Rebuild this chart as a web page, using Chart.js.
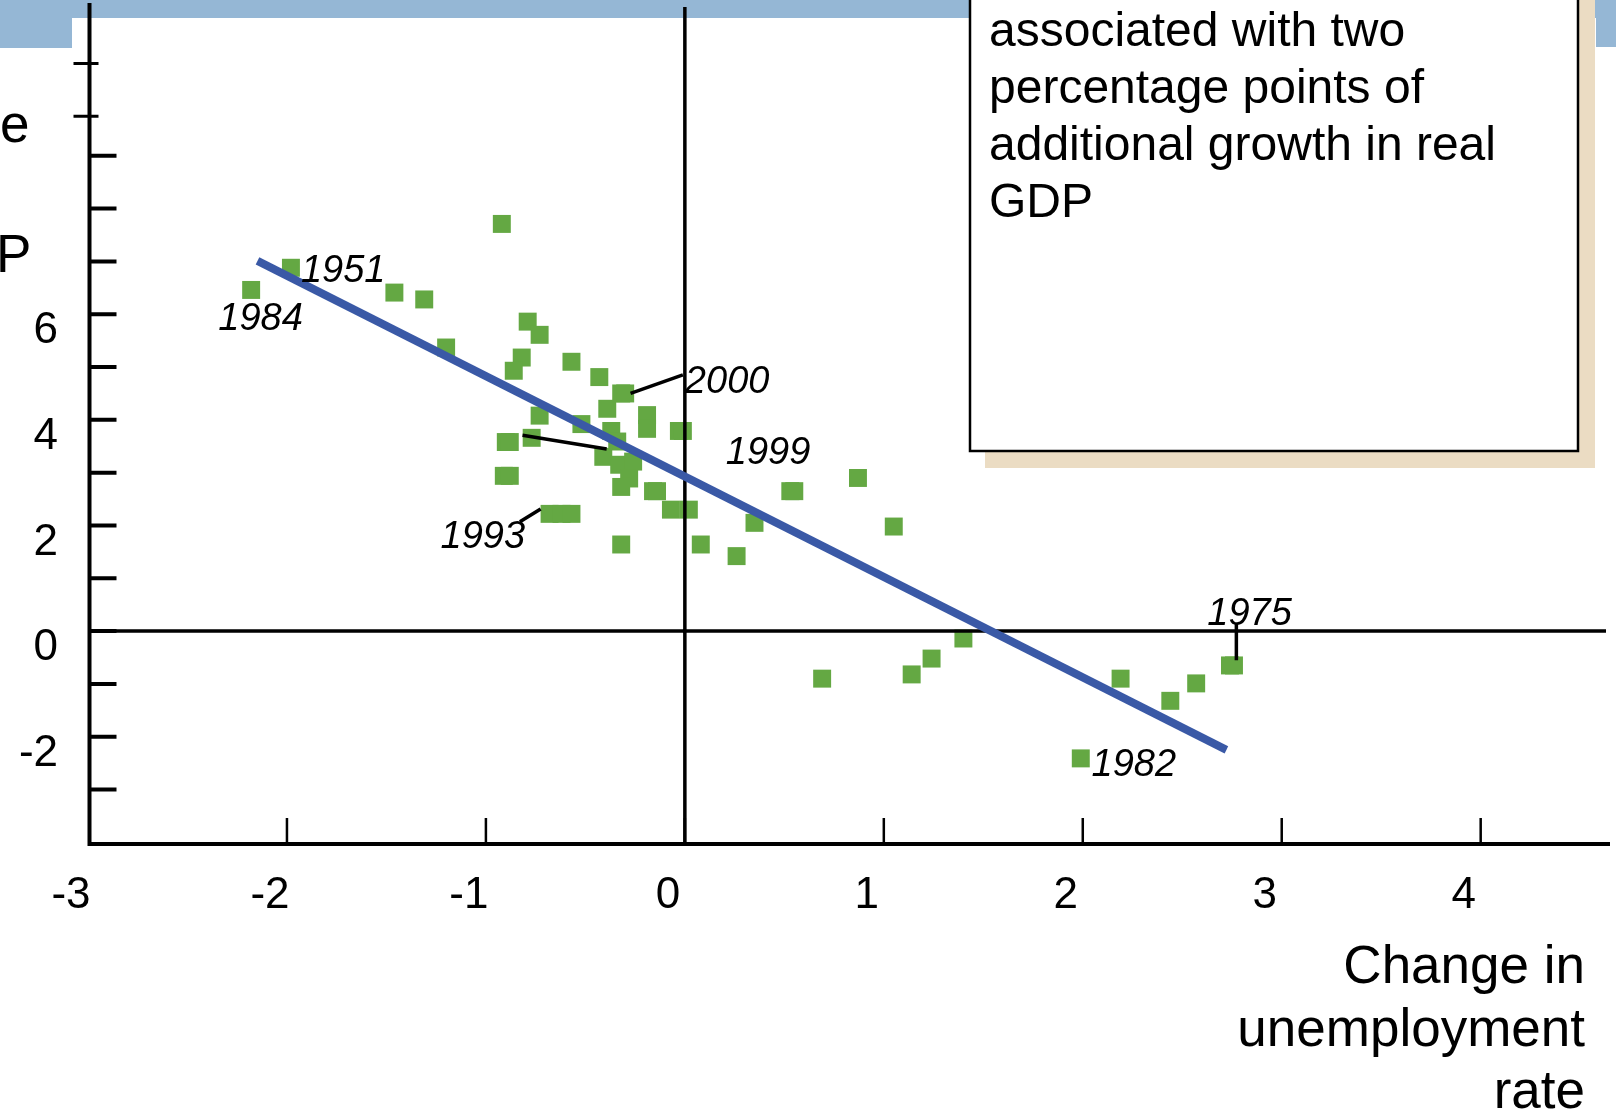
<!DOCTYPE html>
<html lang="en">
<head>
    <meta charset="UTF-8">
    <title>Change in unemployment vs real GDP growth</title>
    <script src="https://cdn.jsdelivr.net/npm/chart.js"></script>
    <style>
        html, body { margin: 0; padding: 0; background: #fff; }
        #okunChart { display: block; }
    </style>
</head>
<body>
    <canvas id="okunChart" width="1616" height="1115"></canvas>
    <script>
        // Annual observations: change in unemployment rate (x) vs real GDP growth (y)
        const unempChange = [
            -0.92, -1.98, -2.18, -1.46, -1.31, -1.20, -0.79, -0.73, -0.82, -0.86,
            -0.57, -0.43, -0.32, -0.30, -0.39, -0.73, -0.52, -0.19, -0.19, -0.03,
            -0.01, -0.37, -0.90, -0.88, -0.77, -0.34, -0.41, -0.33, -0.26, -0.28,
            -0.32, -0.91, -0.88, -0.16, -0.14, -0.68, -0.62, -0.57, -0.07, 0.02,
            -0.32, 0.08, 0.26, 0.35, 0.53, 0.55, 0.87, 1.05, 0.69, 1.14,
            1.24, 1.40, 2.19, 2.44, 2.57, 2.74, 2.76, 1.99
        ];
        const gdpGrowth = [
            7.71, 6.88, 6.46, 6.41, 6.28, 5.37, 5.86, 5.61, 5.18, 4.93,
            5.10, 4.81, 4.50, 4.50, 4.21, 4.08, 3.92, 4.09, 3.83, 3.79,
            3.79, 3.79, 3.58, 3.58, 3.66, 3.59, 3.30, 3.15, 3.21, 2.89,
            2.73, 2.94, 2.94, 2.65, 2.65, 2.22, 2.22, 2.22, 2.30, 2.30,
            1.64, 1.64, 1.42, 2.05, 2.65, 2.65, 2.90, 1.98, -0.90, -0.82,
            -0.52, -0.14, -0.90, -1.32, -0.99, -0.65, -0.65, -2.41
        ];

        // fitted Okun line (end points)
        const fitX = [-2.148, 2.722];
        const fitY = [7.01, -2.25];

        // leader lines from year labels to their points
        const leaderX = [[-0.273, -0.010], [-0.816, -0.393], [-0.829, -0.725], [2.772, 2.772]];
        const leaderY = [[4.50, 4.85], [3.71, 3.45], [2.07, 2.31], [0.15, -0.55]];

        // year labels (left edge / middle, in data units)
        const yearNames = ['1951', '1984', '2000', '1999', '1993', '1975', '1982'];
        const yearX = [-1.930, -2.345, 0.000, 0.206, -1.228, 2.626, 2.044];
        const yearY = [6.876, 5.967, 4.774, 3.429, 1.839, 0.381, -2.488];

        // axes
        const xTickValues = [-3, -2, -1, 0, 1, 2, 3, 4];
        const yTickLabels = [-2, 0, 2, 4, 6];
        const yTickMarks = [-3, -2, -1, 0, 1, 2, 3, 4, 5, 6, 7, 8, 9];
        const yCrossTicks = [9.75, 10.75];
        const xTitle = ['Change in', 'unemployment', 'rate'];
        const noteLines = ['associated with two', 'percentage points of', 'additional growth in real', 'GDP'];

        const FONT = '"Liberation Sans", Arial, sans-serif';

        function drawAxes(chart) {
            const ctx = chart.ctx;
            const xs = chart.scales.x, ys = chart.scales.y;
            const a = chart.chartArea;
            const x0 = a.left + 1.5, yb = a.bottom - 1;
            ctx.save();
            ctx.strokeStyle = '#000';
            ctx.lineCap = 'butt';
            // zero lines
            ctx.lineWidth = 3.5;
            ctx.beginPath();
            ctx.moveTo(x0, ys.getPixelForValue(0));
            ctx.lineTo(1606, ys.getPixelForValue(0));
            ctx.moveTo(xs.getPixelForValue(0), 7);
            ctx.lineTo(xs.getPixelForValue(0), yb);
            ctx.stroke();
            // y ticks (inside)
            ctx.lineWidth = 4;
            ctx.beginPath();
            yTickMarks.forEach(v => {
                const p = ys.getPixelForValue(v);
                ctx.moveTo(x0, p);
                ctx.lineTo(x0 + 27, p);
            });
            ctx.stroke();
            ctx.lineWidth = 3;
            ctx.beginPath();
            yCrossTicks.forEach(v => {
                const p = ys.getPixelForValue(v);
                ctx.moveTo(x0 - 16, p);
                ctx.lineTo(x0 + 9, p);
            });
            ctx.stroke();
            // x ticks (inside)
            ctx.lineWidth = 2.5;
            ctx.beginPath();
            xTickValues.slice(1).forEach(v => {
                const p = xs.getPixelForValue(v);
                ctx.moveTo(p, yb);
                ctx.lineTo(p, yb - 26);
            });
            ctx.stroke();
            // axis lines
            ctx.lineWidth = 4;
            ctx.beginPath();
            ctx.moveTo(x0, 3);
            ctx.lineTo(x0, yb + 2);
            ctx.moveTo(x0 - 2, yb);
            ctx.lineTo(a.right, yb);
            ctx.stroke();
            ctx.restore();
        }

        const okunDecor = {
            id: 'okunDecor',
            beforeDraw(chart) {
                const ctx = chart.ctx;
                ctx.save();
                ctx.fillStyle = '#fff';
                ctx.fillRect(0, 0, chart.width, chart.height);
                // slide banner
                ctx.fillStyle = '#95b7d5';
                ctx.fillRect(0, 0, chart.width, 18);
                ctx.fillRect(0, 0, 72, 48);
                ctx.fillRect(1596, 0, 20, 47);
                // callout with shadow
                ctx.fillStyle = '#ebdcc3';
                ctx.fillRect(985, 0, 610, 468);
                ctx.fillStyle = '#fff';
                ctx.fillRect(970, -10, 608, 461);
                ctx.strokeStyle = '#000';
                ctx.lineWidth = 2.5;
                ctx.strokeRect(970, -10, 608, 461);
                ctx.fillStyle = '#000';
                ctx.font = '48px ' + FONT;
                ctx.textBaseline = 'alphabetic';
                noteLines.forEach((t, i) => ctx.fillText(t, 989, 46 + i * 57));
                ctx.restore();
            },
            beforeDatasetDraw(chart, args) {
                if (args.index === 0) drawAxes(chart);
            },
            afterDraw(chart) {
                const ctx = chart.ctx;
                const xs = chart.scales.x, ys = chart.scales.y;
                ctx.save();
                ctx.fillStyle = '#000';
                ctx.textBaseline = 'alphabetic';
                // year labels
                ctx.font = 'italic 38px ' + FONT;
                ctx.textAlign = 'left';
                yearNames.forEach((t, i) => {
                    ctx.fillText(t, xs.getPixelForValue(yearX[i]), ys.getPixelForValue(yearY[i]) + 13.6);
                });
                // x axis title
                ctx.font = '53px ' + FONT;
                ctx.textAlign = 'right';
                xTitle.forEach((t, i) => ctx.fillText(t, 1585, 983 + i * 62.5));
                // clipped y axis title fragments
                ctx.textAlign = 'left';
                ctx.fillText('e', 0, 142);
                ctx.fillText('P', -4, 272);
                ctx.restore();
            }
        };

        const ctx = document.getElementById('okunChart').getContext('2d');
        new Chart(ctx, {
            type: 'scatter',
            data: {
                datasets: [
                    {
                        type: 'line',
                        data: fitX.map((x, i) => ({ x: x, y: fitY[i] })),
                        borderColor: '#3a59a6',
                        borderWidth: 8,
                        borderCapStyle: 'butt',
                        pointRadius: 0,
                        fill: false
                    },
                    ...leaderX.map((lx, k) => ({
                        type: 'line',
                        data: lx.map((x, i) => ({ x: x, y: leaderY[k][i] })),
                        borderColor: '#000',
                        borderWidth: 3.5,
                        pointRadius: 0,
                        fill: false
                    })),
                    {
                        data: unempChange.map((x, i) => ({ x: x, y: gdpGrowth[i] })),
                        pointStyle: 'rect',
                        pointRadius: 12.7,
                        backgroundColor: '#64a843',
                        borderWidth: 0
                    }
                ]
            },
            options: {
                responsive: false,
                animation: false,
                events: [],
                layout: { autoPadding: false, padding: { left: 0, right: 6, top: 0, bottom: 0 } },
                plugins: { legend: { display: false }, tooltip: { enabled: false } },
                scales: {
                    x: {
                        type: 'linear',
                        position: 'bottom',
                        min: -3,
                        max: 4.65,
                        grid: { display: false, drawTicks: false },
                        border: { display: false },
                        afterBuildTicks: s => { s.ticks = xTickValues.map(v => ({ value: v })); },
                        afterFit: s => { s.height = 270; s.paddingLeft = 0; s.paddingRight = 0; },
                        ticks: {
                            color: '#000',
                            font: { family: FONT, size: 44 },
                            padding: 24,
                            labelOffset: -17,
                            maxRotation: 0,
                            autoSkip: false
                        }
                    },
                    y: {
                        type: 'linear',
                        min: -4.05,
                        max: 11.95,
                        grid: { display: false, drawTicks: false },
                        border: { display: false },
                        afterBuildTicks: s => { s.ticks = yTickLabels.map(v => ({ value: v })); },
                        afterFit: s => { s.width = 88; s.paddingTop = 0; s.paddingBottom = 0; },
                        ticks: {
                            color: '#000',
                            font: { family: FONT, size: 44 },
                            padding: 30,
                            labelOffset: 17,
                            autoSkip: false
                        }
                    }
                }
            },
            plugins: [okunDecor]
        });
    </script>
</body>
</html>
